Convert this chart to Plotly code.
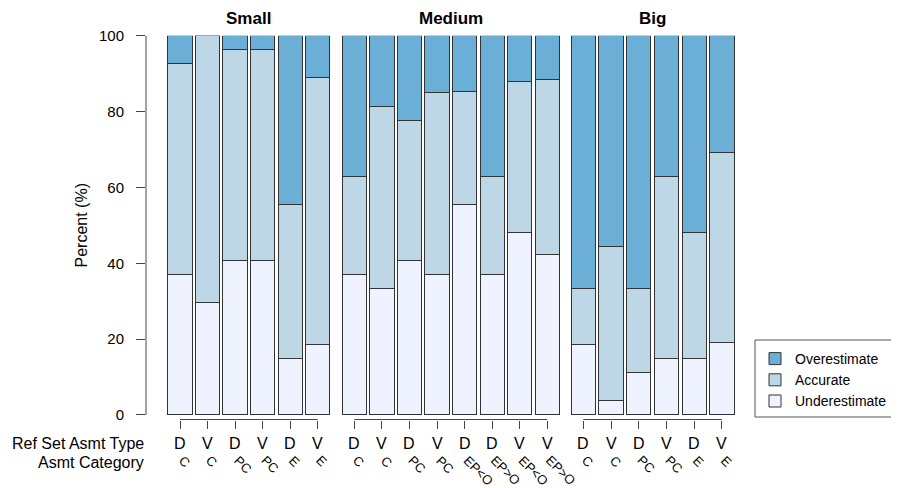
import plotly.graph_objects as go

# ---- data ----
panel_names = ["Small", "Medium", "Big"]

small_type = ["D", "V", "D", "V", "D", "V"]
small_cat = ["C", "C", "PC", "PC", "E", "E"]
small_under = [37.0, 29.6, 40.7, 40.7, 14.8, 18.5]
small_acc = [55.6, 70.4, 55.6, 55.6, 40.8, 70.4]
small_over = [7.4, 0.0, 3.7, 3.7, 44.4, 11.1]

medium_type = ["D", "V", "D", "V", "D", "D", "V", "V"]
medium_cat = ["C", "C", "PC", "PC", "EP<O", "EP>O", "EP<O", "EP>O"]
medium_under = [37.0, 33.3, 40.7, 37.0, 55.6, 37.0, 48.0, 42.3]
medium_acc = [25.9, 48.1, 37.0, 48.1, 29.6, 25.9, 40.0, 46.2]
medium_over = [37.1, 18.6, 22.3, 14.9, 14.8, 37.1, 12.0, 11.5]

big_type = ["D", "V", "D", "V", "D", "V"]
big_cat = ["C", "C", "PC", "PC", "E", "E"]
big_under = [18.5, 3.7, 11.1, 14.8, 14.8, 19.2]
big_acc = [14.8, 40.7, 22.2, 48.1, 33.3, 50.0]
big_over = [66.7, 55.6, 66.7, 37.1, 51.9, 30.8]

series_names = ["Underestimate", "Accurate", "Overestimate"]
series_colors = ["#EFF3FF", "#BDD7E7", "#6BAED6"]

y_ticks = [0, 20, 40, 60, 80, 100]

panels = [
    (small_type, small_cat, [small_under, small_acc, small_over]),
    (medium_type, medium_cat, [medium_under, medium_acc, medium_over]),
    (big_type, big_cat, [big_under, big_acc, big_over]),
]

# ---- layout helpers (page body has an 8px margin) ----
OFF = 8
W, H = 899 - OFF, 488 - OFF
FONT = "Liberation Sans, Arial, sans-serif"


def px(x):
    return (x - OFF) / W


def py(y):
    return 1 - (y - OFF) / H


x_domains = [(146, 334.2), (337.8, 563.8), (566.7, 738.6)]
x_ranges = [(-1.235, 5.6), (-0.6, 7.6), (-0.6, 5.6)]
y_dom = [py(419.5), py(35.7)]
y_rng = [-1.19, 100]

fig = go.Figure()
annotations = []
shapes = []

for k, (types, cats, vals) in enumerate(panels):
    sfx = "" if k == 0 else str(k + 1)
    labels = [f"{t} {c}" for t, c in zip(types, cats)]
    for s, (name, col) in enumerate(zip(series_names, series_colors)):
        fig.add_trace(go.Bar(
            x=labels, y=vals[s], name=name,
            marker=dict(color=col, line=dict(color="#333333", width=1)),
            width=0.88, xaxis="x" + sfx, yaxis="y" + sfx,
            showlegend=(k == 0), legendgroup=name, hoverinfo="skip",
        ))
    fig.update_layout(**{
        "xaxis" + sfx: dict(
            domain=[px(x_domains[k][0]), px(x_domains[k][1])],
            range=list(x_ranges[k]), type="category",
            anchor="y" + sfx, showline=False, showgrid=False, zeroline=False,
            ticks="outside", ticklen=8, tickwidth=1, tickcolor="#444444",
            showticklabels=False, fixedrange=True,
        )
    })
    if k > 0:
        fig.update_layout(**{
            "yaxis" + sfx: dict(domain=y_dom, range=y_rng, anchor="x" + sfx,
                                visible=False, fixedrange=True)
        })
    shapes.append(dict(type="line", xref="x" + sfx, yref="y" + sfx + " domain",
                       x0=0, x1=len(labels) - 1, y0=0, y1=0,
                       line=dict(color="#444444", width=1)))
    annotations.append(dict(text="<b>%s</b>" % panel_names[k], xref="x" + sfx,
                            yref="paper", x=(len(labels) - 1) / 2, y=py(18),
                            xanchor="center", yanchor="middle", showarrow=False,
                            font=dict(size=17, color="black", family=FONT)))
    for lab, t, c in zip(labels, types, cats):
        annotations.append(dict(text=t, xref="x" + sfx, yref="paper", x=lab,
                                y=py(443), xanchor="center", yanchor="middle",
                                showarrow=False,
                                font=dict(size=16, color="black", family=FONT)))
        annotations.append(dict(text=c, xref="x" + sfx, yref="paper", x=lab,
                                y=py(450), xanchor="left", yanchor="top",
                                xshift=-7, textangle=45, showarrow=False,
                                font=dict(size=13, color="black", family=FONT)))

# y axis line
shapes.append(dict(type="line", xref="x domain", yref="y", x0=0, x1=0, y0=0, y1=100,
                   line=dict(color="#444444", width=1)))
# legend frame
shapes.append(dict(type="rect", xref="paper", yref="paper", x0=px(755), x1=px(910),
                   y0=py(417), y1=py(340), line=dict(color="#555555", width=1),
                   fillcolor="white", layer="below"))

annotations.append(dict(text="Percent (%)", xref="paper", yref="paper", x=px(81),
                        y=py(225.5), xanchor="center", yanchor="middle",
                        textangle=-90, showarrow=False,
                        font=dict(size=16, color="black", family=FONT)))
annotations.append(dict(text="Ref Set Asmt Type", xref="paper", yref="paper", x=px(146),
                        y=py(443), xanchor="right", yanchor="middle", showarrow=False,
                        font=dict(size=16, color="black", family=FONT)))
annotations.append(dict(text="Asmt Category", xref="paper", yref="paper", x=px(146),
                        y=py(462), xanchor="right", yanchor="middle", showarrow=False,
                        font=dict(size=16, color="black", family=FONT)))

fig.update_layout(
    width=W, height=H, autosize=False,
    margin=dict(l=0, r=0, t=0, b=0, autoexpand=False),
    paper_bgcolor="white", plot_bgcolor="white",
    barmode="stack",
    font=dict(family=FONT, color="black"),
    yaxis=dict(domain=y_dom, range=y_rng, anchor="x", showline=False,
               showgrid=False, zeroline=False, tickvals=y_ticks,
               ticks="outside", ticklen=9, tickcolor="#444444",
               ticklabelstandoff=9, tickfont=dict(size=15, color="black", family=FONT),
               fixedrange=True),
    legend=dict(x=px(755), y=py(343), xanchor="left", yanchor="top",
                traceorder="reversed", bgcolor="rgba(0,0,0,0)",
                borderwidth=0, tracegroupgap=0,
                font=dict(size=14, color="black", family=FONT)),
    annotations=annotations, shapes=shapes,
)

fig.write_html("out.html")
